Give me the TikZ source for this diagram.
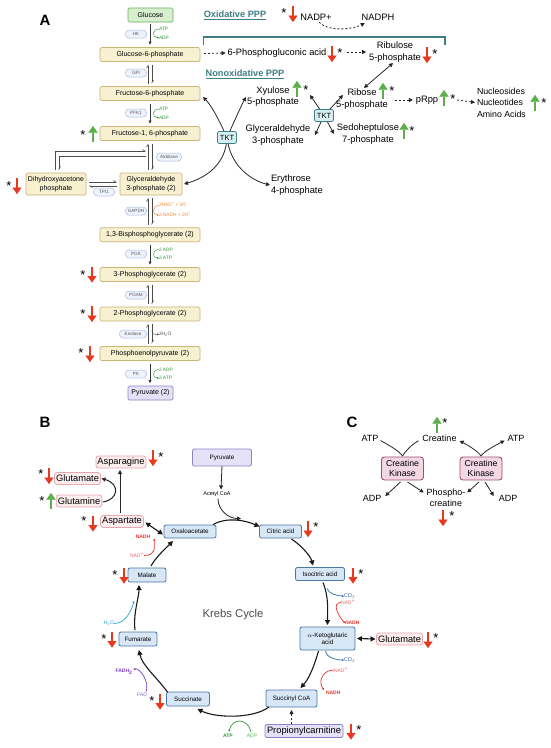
\documentclass[tikz,border=0pt]{standalone}
\usepackage{fontspec}
\setmainfont{Liberation Sans}
\usetikzlibrary{arrows.meta,calc}
\definecolor{yfill}{HTML}{F7F1D2}
\definecolor{ybd}{HTML}{C9B574}
\definecolor{gfill}{HTML}{D8EFCF}
\definecolor{gbd}{HTML}{62AE5C}
\definecolor{pfill}{HTML}{E5E2F8}
\definecolor{pbd}{HTML}{8C84C8}
\definecolor{efill}{HTML}{EEF2FC}
\definecolor{ebd}{HTML}{A9B9E2}
\definecolor{redA}{HTML}{E8381E}
\definecolor{grnA}{HTML}{5BB04B}
\definecolor{tealc}{HTML}{3E7F87}
\definecolor{tktf}{HTML}{D6EEF2}
\definecolor{kfill}{HTML}{D7E7F6}
\definecolor{kbd}{HTML}{4B78A8}
\definecolor{pkf}{HTML}{FCEDEE}
\definecolor{pkb}{HTML}{E8A7AE}
\definecolor{ckf}{HTML}{F3D8E4}
\definecolor{ckb}{HTML}{A04E78}
\definecolor{atpg}{HTML}{2E9A3A}
\definecolor{adpg}{HTML}{5DB45D}
\definecolor{nadr}{HTML}{E8342C}
\definecolor{nadl}{HTML}{F0686A}
\definecolor{co2b}{HTML}{2C6DB8}
\definecolor{h2ob}{HTML}{2AA3CC}
\definecolor{fadp}{HTML}{7B3DB8}
\definecolor{orng}{HTML}{F08A2A}
\newcommand\fz[2]{\fontsize{#1}{#2}\selectfont}
\tikzset{
 every node/.style={inner sep=0pt, outer sep=0pt},
 lab/.style={font=\fz{15}{15}\bfseries},
 ybox/.style={draw=ybd, fill=yfill, line width=0.7pt, rounded corners=1.5pt, minimum width=100pt, minimum height=14pt, font=\fz{7}{8.5}, align=center},
 enz/.style={draw=ebd, fill=efill, line width=0.5pt, rounded corners=3.5pt, minimum width=21pt, minimum height=8pt, inner xsep=2pt, font=\fz{4.6}{5}, text=black!65},
 arr/.style={draw=black!80, line width=0.6pt, -{Triangle[length=3pt,width=3pt]}},
 hp/.style={draw=black!70, line width=0.6pt, -{Straight Barb[left,length=2.5pt,width=3pt]}},
 sml/.style={font=\fz{4.8}{5}},
 gc/.style={line width=0.5pt, -{Triangle[length=2pt,width=2pt]}},
 astk/.style={font=\fz{13}{13}},
 ppt/.style={font=\fz{9.3}{11.5}, align=center},
 dsh/.style={draw=black!85, line width=0.8pt, dash pattern=on 2pt off 2pt, -{Triangle[length=4pt,width=4pt]}},
 blk/.style={draw=black!85, line width=0.8pt, -{Triangle[length=4pt,width=4pt]}},
 blkb/.style={draw=black!85, line width=0.8pt, {Triangle[length=4pt,width=4pt]}-{Triangle[length=4pt,width=4pt]}},
 tkt/.style={draw=tealc, fill=tktf, line width=0.8pt, rounded corners=2pt, minimum width=19pt, minimum height=12pt, font=\fz{7.5}{8}},
 kbox/.style={draw=kbd, fill=kfill, line width=0.8pt, rounded corners=2pt, font=\fz{6.3}{7.5}, minimum height=13pt, align=center},
 pkbox/.style={draw=pkb, fill=pkf, line width=0.8pt, rounded corners=2.5pt, font=\fz{9.3}{10}, minimum height=12pt, inner xsep=1.5pt},
 ckbox/.style={draw=ckb, fill=ckf, line width=0.9pt, rounded corners=3pt, minimum width=42pt, minimum height=23pt, font=\fz{8.7}{10.5}, align=center},
 karr/.style={draw=black!90, line width=1.1pt, -{Triangle[length=5pt,width=5pt]}},
 kbarr/.style={draw=black!90, line width=1.1pt, {Triangle[length=5pt,width=5pt]}-{Triangle[length=5pt,width=5pt]}},
 nadh/.style={font=\fz{5}{5}\bfseries, text=nadr},
 nadp/.style={font=\fz{5}{5}, text=nadl},
 ctxt/.style={font=\fz{9}{11}, align=center},
 dn/.pic={\draw[redA, line width=2.8pt, -{Triangle[length=6.5pt,width=9pt,line width=0.01pt]}] (0,-8) -- (0,8);},
 up/.pic={\draw[grnA, line width=2.8pt, -{Triangle[length=6.5pt,width=9pt,line width=0.01pt]}] (0,8) -- (0,-8);}
}
\begin{document}
\begin{tikzpicture}[x=1pt,y=-1pt]
\useasboundingbox (0,0) rectangle (550,748);
\fill[white] (0,0) rectangle (550,748);

% ================= Panel A: glycolysis =================
\node[lab] (la) at (45,20) {A};
\node[ybox, fill=gfill, draw=gbd, minimum width=45pt] (glc) at (150.5,15) {Glucose};
\node[ybox] (g6p) at (150,54.5) {Glucose-6-phosphate};
\node[ybox] (f6p) at (150,93.5) {Fructose-6-phosphate};
\node[ybox] (f16) at (150,133.5) {Fructose-1, 6-phosphate};
\node[ybox, minimum width=62pt, minimum height=22pt] (g3p) at (151,184) {Glyceraldehyde\\3-phosphate (2)};
\node[ybox, minimum width=60pt, minimum height=22pt] (dhap) at (56,184) {Dihydroxyacetone\\phosphate};
\node[ybox] (bpg) at (150,234.8) {1,3-Bisphosphoglycerate (2)};
\node[ybox] (pg3) at (150,274.5) {3-Phosphoglycerate (2)};
\node[ybox] (pg2) at (150,314) {2-Phosphoglycerate (2)};
\node[ybox] (pep) at (150,353.5) {Phosphoenolpyruvate (2)};
\node[ybox, fill=pfill, draw=pbd, minimum width=45pt] (pyr2) at (150.5,393) {Pyruvate (2)};

\node[enz] (hk) at (136,34) {HK};
\node[enz] (gpi) at (136,73) {GPI};
\node[enz] (pfk) at (136,113) {PFK1};
\node[enz, minimum width=25pt] (ald) at (169,157) {Aldolase};
\node[enz] (tpi) at (104,192) {TPI1};
\node[enz] (gapdh) at (136,211) {GAPDH};
\node[enz] (pgk) at (136,254) {PGK};
\node[enz] (pgam) at (136,295) {PGAM};
\node[enz, minimum width=27pt] (eno) at (133,334) {Enolase};
\node[enz] (pk) at (136,374) {PK};

% vertical connectors
\draw[arr] ($(glc.south)+(-0.5,2)$) -- ($(g6p.north)+(0,-3)$);
\draw[hp] ($(f6p.north)+(-2,-3)$) -- ($(g6p.south)+(-2,3)$);
\draw[hp] ($(g6p.south)+(2,3)$) -- ($(f6p.north)+(2,-3)$);
\draw[arr] ($(f6p.south)+(0,3)$) -- ($(f16.north)+(0,-3)$);
\draw[hp] ($(f16.south |- g3p.north)+(-2,-3)$) -- ($(f16.south)+(-2,3)$);
\draw[hp] ($(f16.south)+(2,3)$) -- ($(f16.south |- g3p.north)+(2,-3)$);
\draw[hp] ($(dhap.north)+(-1,-3)$) |- ($(f16.south)+(-4,10.5)$);
\draw[hp] ($(f16.south)+(-4,16)$) -| ($(dhap.north)+(3,-3)$);
\draw[hp] ($(dhap.east)+(3,-2)$) -- ($(g3p.west)+(-3,-2)$);
\draw[hp] ($(g3p.west)+(-3,2)$) -- ($(dhap.east)+(3,2)$);
\draw[hp] ($(bpg.north)+(-2,-3)$) -- ($(bpg.north |- g3p.south)+(-2,3)$);
\draw[hp] ($(bpg.north |- g3p.south)+(2,3)$) -- ($(bpg.north)+(2,-3)$);
\draw[arr] ($(bpg.south)+(0,3)$) -- ($(pg3.north)+(0,-3)$);
\draw[hp] ($(pg2.north)+(-2,-3)$) -- ($(pg3.south)+(-2,3)$);
\draw[hp] ($(pg3.south)+(2,3)$) -- ($(pg2.north)+(2,-3)$);
\draw[hp] ($(pep.north)+(-2,-3)$) -- ($(pg2.south)+(-2,3)$);
\draw[hp] ($(pg2.south)+(2,3)$) -- ($(pep.north)+(2,-3)$);
\draw[arr] ($(pep.south)+(0,3)$) -- ($(pyr2.north)+(-0.5,-3)$);

% side labels
\node[sml, text=atpg, anchor=west] (atp1) at (159,29) {ATP};
\node[sml, text=atpg, anchor=west] (adp1) at (159,37.5) {ADP};
\draw[gc, draw=atpg] (atp1.west) .. controls +(-7,0) and +(-7,0) .. (adp1.west);
\node[sml, text=atpg, anchor=west] (atp2) at (159,109) {ATP};
\node[sml, text=atpg, anchor=west] (adp2) at (159,117.5) {ADP};
\draw[gc, draw=atpg] (atp2.west) .. controls +(-7,0) and +(-7,0) .. (adp2.west);
\node[sml, text=orng, anchor=west] (nad0) at (159,205.5) {2NAD\textsuperscript{+} + 2P\textsubscript{i}};
\node[sml, text=orng, anchor=west] (nadh0) at (159,215) {2 NADH + 2H\textsuperscript{+}};
\draw[gc, draw=orng] (nad0.west) .. controls +(-7,0) and +(-7,0) .. (nadh0.west);
\node[sml, text=atpg, anchor=west] (adp3) at (159,249.5) {2 ADP};
\node[sml, text=atpg, anchor=west] (atp3) at (159,258) {2 ATP};
\draw[gc, draw=atpg] (adp3.west) .. controls +(-7,0) and +(-7,0) .. (atp3.west);
\node[sml, text=black!70, anchor=west] (h2o0) at (159,334.5) {2H\textsubscript{2}O};
\draw[gc, draw=black!70] ($(pg2.south)+(2,9)$) .. controls +(0,4) .. (h2o0.west);
\node[sml, text=atpg, anchor=west] (adp4) at (159,369.5) {2 ADP};
\node[sml, text=atpg, anchor=west] (atp4) at (159,378) {2 ATP};
\draw[gc, draw=atpg] (adp4.west) .. controls +(-7,0) and +(-7,0) .. (atp4.west);

% change indicators
\pic at (93,134) {up};   \node[astk] (sa1) at (83,135) {*};
\pic at (17,186) {dn};   \node[astk] (sa2) at (9,186) {*};
\pic at (92,274.5) {dn}; \node[astk] (sa3) at (83,275) {*};
\pic at (92,314) {dn};   \node[astk] (sa4) at (83,314) {*};
\pic at (90,354) {dn};   \node[astk] (sa5) at (81,353) {*};

% ================= PPP =================
\node[font=\fz{9.2}{10}\bfseries, text=tealc] (oxp) at (235,15) {\underline{Oxidative PPP}};
\pic at (293,14) {dn}; \node[astk] (sp1) at (284,13) {*};
\node[ppt] (nadp) at (316,17) {NADP+};
\node[ppt] (nadph) at (378,17) {NADPH};
\draw[dsh] ($(nadp.south)+(3,2)$) .. controls +(10,10) and +(-12,6) .. ($(nadph.south west)+(3,3)$);
\draw[tealc, line width=1.1pt] (203.5,45) -- (203.5,37) -- (445,37) -- (445,45);
\node[ppt] (pga) at (277,53) {6-Phosphogluconic acid};
\draw[dsh] ($(g6p.east)+(4,-1)$) -- ($(pga.west)+(-2,0)$);
\pic at (332,54) {dn}; \node[astk] (sp2) at (340,53) {*};
\node[ppt] (ribu) at (395,52) {Ribulose\\5-phosphate};
\draw[dsh] ($(pga.east)+(21,-1)$) -- ($(ribu.west)+(-3,0)$);
\pic at (427,55) {dn}; \node[astk] (sp3) at (435,54) {*};

\node[font=\fz{9.2}{10}\bfseries, text=tealc] (nonox) at (245,74) {\underline{Nonoxidative PPP}};
\node[ppt] (xyl) at (273,96.5) {Xyulose\\5-phosphate};
\pic at (297,89) {up}; \node[astk] (sp4) at (306,90) {*};
\node[ppt] (ribo) at (362,99) {Ribose\\5-phosphate};
\pic at (383,91) {up}; \node[astk] (sp5) at (392,91) {*};
\draw[blkb] ($(ribu.south)+(-2,1)$) -- ($(ribo.north)+(2,-1)$);
\node[ppt] (prpp) at (427,100) {pRpp};
\pic at (444,98) {up}; \node[astk] (sp6) at (453,99) {*};
\draw[dsh] ($(ribo.east)+(7,1)$) -- ($(prpp.west)+(-3,0)$);
\node[font=\fz{8.8}{11.5}, align=left, anchor=west] (nuc) at (477,102.5) {Nucleosides\\Nucleotides\\Amino Acids};
\draw[dsh] ($(prpp.east)+(19,0)$) -- ($(nuc.west)+(-2,0)$);
\pic at (535,103) {up}; \node[astk] (sp7) at (544,103) {*};

\node[ppt] (g3pl) at (278,135) {Glyceraldehyde\\3-phosphate};
\node[ppt] (sedo) at (368,134) {Sedoheptulose\\7-phosphate};
\pic at (404,131) {up}; \node[astk] (sp8) at (412,131) {*};
\node[ppt, align=left, anchor=west] (ery) at (271,185) {Erythrose\\4-phosphate};

% right TKT
\coordinate (t2) at (324,115.5);
\coordinate (e1) at (310,95);
\coordinate (e2) at (343,95);
\coordinate (e3) at (315,135);
\coordinate (e4) at (334,134);
\draw[blk] (t2) -- (e1);
\draw[blk] (t2) -- (e2);
\draw[blk] (t2) -- (e3);
\draw[blk] (t2) -- (e4);
\node[tkt] (tkt2) at (t2) {TKT};
% left TKT
\coordinate (t1) at (227,137.5);
\coordinate (e5) at (203,97);
\coordinate (e6) at (246,97);
\draw[blk] (t1) .. controls (220,122) and (212,106) .. (e5);
\draw[blk] (t1) .. controls (234,122) and (241,106) .. (e6);
\draw[blk] (t1) .. controls (226,165) and (205,178) .. ($(g3p.east)+(2,0)$);
\draw[blk] (t1) .. controls (230,165) and (250,180) .. ($(ery.west)+(-1,0)$);
\node[tkt] (tkt1) at (t1) {TKT};

% ================= Panel B: Krebs cycle =================
\node[lab] (lb) at (45,422) {B};
\node[kbox, fill=pfill, draw=pbd, minimum width=59pt, minimum height=17pt] (pyr) at (222,457.5) {Pyruvate};
\node[font=\fz{5.5}{6}] (acoa) at (217,494) {Acetyl CoA};
\node[kbox, minimum width=52pt] (oaa) at (190,531.5) {Oxaloacetate};
\node[kbox, minimum width=42pt] (cit) at (280.5,531.5) {Citric acid};
\node[kbox, minimum width=49pt] (iso) at (320,574) {Isocitric acid};
\node[kbox, minimum width=55pt, minimum height=23pt] (akg) at (327.5,638.5) {$\alpha$-Ketoglutaric\\acid};
\node[kbox, minimum width=51pt, minimum height=17pt] (sca) at (291.5,698.5) {Succinyl CoA};
\node[kbox, minimum width=43pt, minimum height=14pt] (suc) at (188,699) {Succinate};
\node[kbox, minimum width=38pt, minimum height=14pt] (fum) at (138,639) {Fumarate};
\node[kbox, minimum width=38pt, minimum height=14pt] (mal) at (147,575) {Malate};
\node[pkbox] (asp) at (122,521.5) {Aspartate};
\node[pkbox] (asn) at (121,462) {Asparagine};
\node[pkbox] (glu) at (77.5,478.5) {Glutamate};
\node[pkbox] (gln) at (79,501) {Glutamine};
\node[pkbox] (glu2) at (399.5,639) {Glutamate};
\node[kbox, fill=pfill, draw=pbd, font=\fz{9.3}{10}, minimum width=78pt] (propc) at (304,731) {Propionylcarnitine};
\node[font=\fz{11.3}{12}, text=black!70] (kc) at (233,615) {Krebs Cycle};

\pic at (153,458) {dn}; \node[astk] (sb1) at (161,457) {*};
\pic at (49,476) {dn};  \node[astk] (sb2) at (41,474) {*};
\pic at (51,501) {up};  \node[astk] (sb3) at (42,501) {*};
\pic at (93,523.5) {dn}; \node[astk] (sb4) at (84,521) {*};
\pic at (308,529) {dn}; \node[astk] (sb5) at (316,527) {*};
\pic at (353,575.5) {dn}; \node[astk] (sb6) at (361,574) {*};
\pic at (428,640) {dn}; \node[astk] (sb7) at (436,638) {*};
\pic at (351,731.5) {dn}; \node[astk] (sb8) at (359,730) {*};
\pic at (160,701.5) {dn}; \node[astk] (sb9) at (152,701) {*};
\pic at (112,639.5) {dn}; \node[astk] (sb10) at (104,639) {*};
\pic at (124,575.5) {dn}; \node[astk] (sb11) at (115,575) {*};

\coordinate (mrg) at (241,518.5);
\draw[blk, line width=0.8pt] (pyr.south) -- ($(acoa.north)+(4,-2)$);
\draw[blk, line width=0.8pt] ($(acoa.south)+(1,2)$) .. controls +(0,12) and +(-12,0) .. (mrg);
\draw[karr] ($(oaa.north east)+(-3,-0.5)$) .. controls +(15,-8) and +(-14,-6) .. ($(cit.west)+(0,-5)$);
\draw[karr] ($(cit.south east)+(-10,1)$) .. controls +(12,8) and +(-2,-8) .. ($(iso.north)+(-7,-2)$);
\draw[karr] ($(iso.south)+(3,2)$) .. controls +(6,15) and +(0,-15) .. ($(akg.north)+(0,-2)$);
\draw[kbarr] ($(akg.east)+(2,0)$) -- ($(glu2.west)+(-1,0)$);
\draw[karr] ($(akg.south)+(-9,1)$) .. controls +(-4,14) and +(9,-10) .. ($(sca.north)+(9,-2)$);
\draw[karr] ($(sca.south west)+(3,0)$) .. controls +(-16,12) and +(18,9) .. ($(suc.south east)+(-12,3)$);
\draw[karr] ($(suc.north west)+(1,0)$) .. controls +(-12,-16) and +(3,15) .. ($(fum.south)+(1,4)$);
\draw[karr] ($(fum.north)+(-3,-2)$) .. controls +(-2,-16) and +(0,12) .. ($(mal.south)+(-8,3)$);
\draw[karr] ($(mal.north)+(4,-2)$) .. controls +(5,-9) and +(-8,8) .. ($(oaa.south west)+(9,3)$);
\draw[kbarr] ($(asp.east)+(2,1)$) -- ($(oaa.west)+(-1,3)$);
\draw[blk, line width=1pt] ($(asp.north)+(-2,-3)$) -- ($(asn.south)+(-1,2)$);
\draw[blk, line width=1pt] ($(gln.east)+(1,1)$) .. controls (118,500) and (121,484) .. ($(glu.east)+(1,0)$);
\draw[dsh] ($(sca.south)+(0,17)$) -- ($(sca.south)+(0,3)$);

% cofactors
\node[font=\fz{5.5}{6}, text=co2b, anchor=west] (co2a) at (344,596) {CO\textsubscript{2}};
\draw[gc, draw=co2b, line width=0.7pt] ($(iso.south)+(7,8)$) .. controls +(1,5) and +(-6,0) .. (co2a.west);
\node[nadp] (nad1) at (348,602.5) {NAD\textsuperscript{+}};
\node[nadh, anchor=west] (nadh1) at (345,623) {NADH};
\draw[gc, draw=nadr, line width=0.7pt] (nad1.west) .. controls +(-10,0) and +(-6,-6) .. (nadh1.west);
\node[font=\fz{5.5}{6}, text=co2b, anchor=west] (co2b) at (344,660) {CO\textsubscript{2}};
\draw[gc, draw=co2b, line width=0.7pt] ($(akg.south)+(-2,1)$) .. controls +(1,7) and +(-7,0) .. (co2b.west);
\node[nadp] (nad2) at (341,670) {NAD\textsuperscript{+}};
\node[nadh, anchor=west] (nadh2) at (326,693) {NADH};
\draw[gc, draw=nadr, line width=0.7pt] (nad2.west) .. controls +(-12,0) and +(-6,-8) .. ($(nadh2.west)+(-2,-3)$);
\node[nadp] (nad3) at (137,555.5) {NAD\textsuperscript{+}};
\node[nadh] (nadh3) at (143,536.5) {NADH};
\draw[gc, draw=nadr, line width=0.7pt] (nad3.east) .. controls +(12,0) and +(0,10) .. ($(nadh3.east)+(4,2)$);
\node[font=\fz{5.2}{6}, text=h2ob] (h2o) at (109,623.5) {H\textsubscript{2}O};
\draw[gc, draw=h2ob, line width=0.7pt] (h2o.east) .. controls +(12,0) and +(-2,8) .. ($(fum.north)+(-4,-31)$);
\node[font=\fz{5}{5}\bfseries, text=fadp] (fadh) at (124,671.5) {FADH\textsubscript{2}};
\node[font=\fz{5}{5}, text=fadp!80] (fad) at (142,694.5) {FAD};
\draw[gc, draw=fadp, line width=0.7pt] ($(fad.north)+(4,-1)$) .. controls +(4,-10) and +(6,-2) .. ($(fadh.east)+(1,-2)$);
\node[font=\fz{5}{5}\bfseries, text=atpg] (atpk) at (228,735.5) {ATP};
\node[font=\fz{5}{5}, text=adpg] (adpk) at (252,735.5) {ADP};
\draw[gc, draw=atpg, line width=0.7pt] ($(adpk.north)+(-1,-2)$) .. controls +(-3,-14) and +(3,-14) .. ($(atpk.north)+(1,-2)$);

% ================= Panel C =================
\node[lab] (lc) at (352,422) {C};
\node[ctxt] (cre) at (439.5,438.5) {Creatine};
\pic at (437,425) {up}; \node[astk] (sc1) at (445,423) {*};
\node[ctxt] (atpL) at (370,438.5) {ATP};
\node[ctxt] (atpR) at (516,438.5) {ATP};
\node[ckbox] (ck1) at (402.5,468.5) {Creatine\\Kinase};
\node[ckbox] (ck2) at (481,468.5) {Creatine\\Kinase};
\node[ctxt] (pcr) at (446,497.5) {Phospho-\\creatine};
\pic at (443,518) {dn}; \node[astk] (sc2) at (452,516) {*};
\node[ctxt] (adpL) at (372,498) {ADP};
\node[ctxt] (adpR) at (508,498) {ADP};
\draw[line width=0.8pt, black!85] ($(atpL.south east)+(2,-1)$) .. controls +(6,3) and +(-3,-5) .. ($(ck1.north)+(0,-1)$);
\draw[line width=0.8pt, black!85] ($(cre.south west)+(-4,-1)$) .. controls +(-6,3) and +(3,-5) .. ($(ck1.north)+(0,-1)$);
\draw[blk] ($(ck2.north)+(0,-1)$) .. controls +(-3,-5) and +(6,3) .. ($(cre.south east)+(3,-1)$);
\draw[blk] ($(ck2.north)+(0,-1)$) .. controls +(3,-5) and +(-6,3) .. ($(atpR.south west)+(-3,-1)$);
\draw[blk] ($(ck1.south)+(-2,2)$) -- ($(adpL.east)+(4,-2)$);
\draw[blk] ($(ck1.south)+(5,2)$) -- ($(pcr.west)+(-3,-5)$);
\draw[blk] ($(ck2.south)+(-2,2)$) -- ($(pcr.east)+(2,-5)$);
\draw[blk] ($(ck2.south)+(4,2)$) -- ($(adpR.west)+(-5,-2)$);
\end{tikzpicture}
\end{document}
